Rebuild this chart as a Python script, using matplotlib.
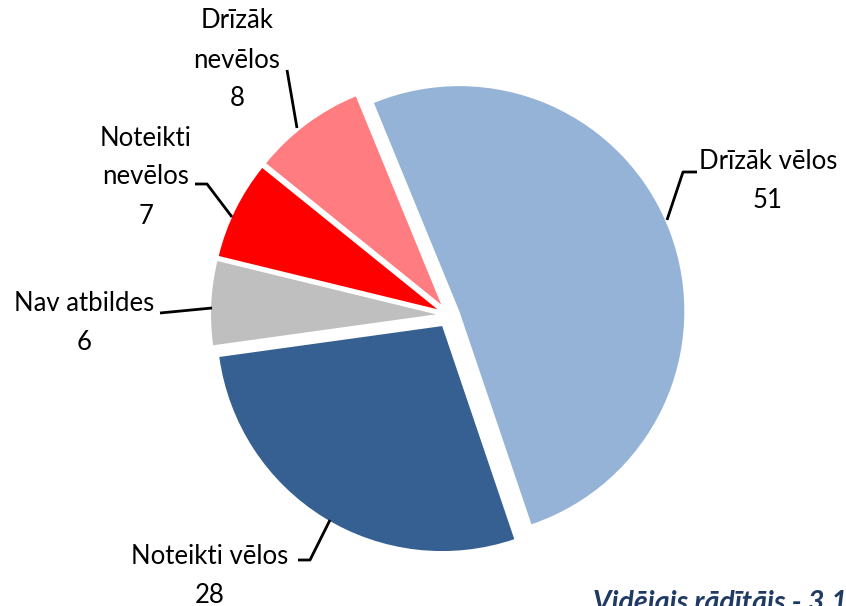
import matplotlib.pyplot as plt

# survey answers (percent)
labels = ["Drīzāk vēlos", "Noteikti vēlos", "Nav atbildes", "Noteikti nevēlos", "Drīzāk nevēlos"]
values = [51, 28, 6, 7, 8]
colors = ["#95B3D7", "#376092", "#BFBFBF", "#FF0000", "#FF7C80"]
average_text = "Vidējais rādītājs - 3.1"

W, H = 846, 606
fig = plt.figure(figsize=(W / 100, H / 100), dpi=100)
ax = fig.add_axes([0, 0, 1, 1])

# explode is in data units (pixels here)
ax.pie(values, colors=colors, explode=[11, 13, 13, 13, 13], startangle=112.3,
       counterclock=False, center=(449, H - 315), radius=225,
       wedgeprops=dict(linewidth=0))

# pie() resets the limits, so set them afterwards
ax.set_xlim(0, W)
ax.set_ylim(0, H)
ax.set_aspect("equal")
ax.axis("off")

font = ["Lato", "DejaVu Sans"]

def label(x, y, txt):
    ax.text(x, H - y, txt, ha="center", va="center", fontsize=18.5,
            family=font, linespacing=1.7, color="black")

def leader(xs, ys):
    ax.plot(xs, [H - y for y in ys], color="black", lw=2, solid_capstyle="butt")

# label texts: name on first line(s), value below
label(768, 181, f"{labels[0]}\n{values[0]}")
leader([667, 683, 697], [220, 172, 172])

label(210, 576, f"{labels[1]}\n{values[1]}")
leader([330, 310, 298], [520, 560, 560])

label(84, 323, f"{labels[2]}\n{values[2]}")
leader([160, 212], [313, 308])

label(146, 177, "Noteikti\nnevēlos\n" + str(values[3]))
leader([195, 207, 232], [184, 184, 217])

label(237, 60, "Drīzāk\nnevēlos\n" + str(values[4]))
leader([287, 297], [70, 128])

ax.text(593, H - 590, average_text, ha="left", va="top", fontsize=20.5,
        family=font, fontweight="bold", fontstyle="italic", color="#1F3A64")

fig.savefig("out.png", dpi=100)
